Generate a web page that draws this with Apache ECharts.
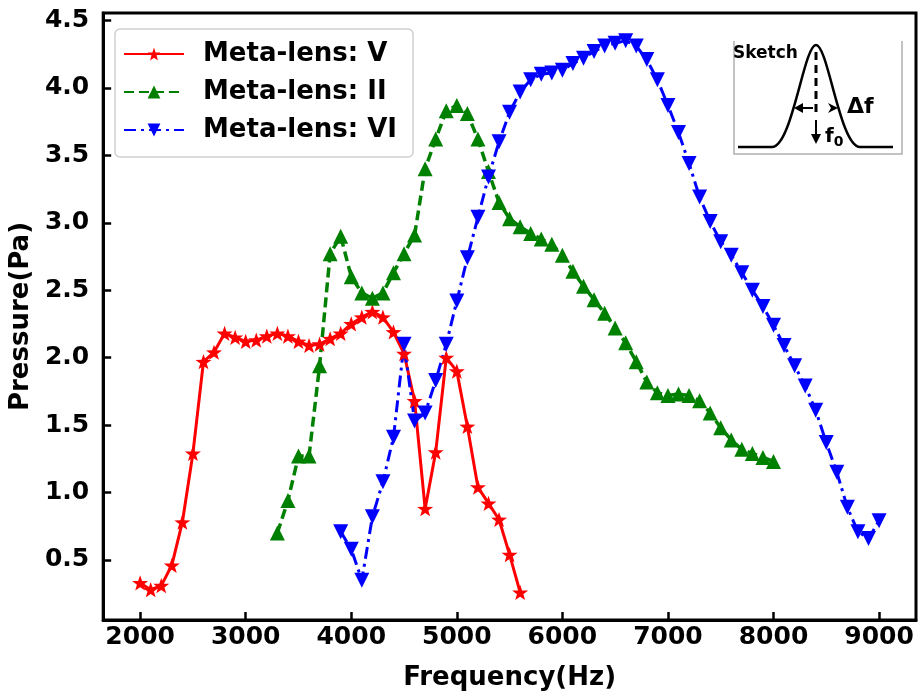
<!DOCTYPE html>
<html>
<head>
<meta charset="utf-8">
<title>Meta-lens pressure vs frequency</title>
<script src="https://cdn.jsdelivr.net/npm/echarts@6/dist/echarts.min.js"></script>
<style>
  html, body { margin: 0; padding: 0; background: #fff; }
  #chart { width: 920px; height: 696px; }
</style>
</head>
<body>
<div id="chart"></div>
<script>
// Meta-lens: V
const freqV = [2000, 2100, 2200, 2300, 2400, 2500, 2600, 2700, 2800, 2900, 3000, 3100, 3200,
  3300, 3400, 3500, 3600, 3700, 3800, 3900, 4000, 4100, 4200, 4300, 4400, 4500, 4600, 4700,
  4800, 4900, 5000, 5100, 5200, 5300, 5400, 5500, 5600]
const pressV = [0.33, 0.28, 0.31, 0.46, 0.78, 1.29, 1.97, 2.04, 2.18, 2.15, 2.12, 2.13, 2.16,
  2.18, 2.16, 2.12, 2.09, 2.10, 2.14, 2.18, 2.25, 2.30, 2.34, 2.30, 2.19, 2.03, 1.68, 0.88,
  1.30, 2.00, 1.90, 1.49, 1.04, 0.92, 0.80, 0.54, 0.26]

// Meta-lens: II
const freqII = [3300, 3400, 3500, 3600, 3700, 3800, 3900, 4000, 4100, 4200, 4300, 4400, 4500,
  4600, 4700, 4800, 4900, 5000, 5100, 5200, 5300, 5400, 5500, 5600, 5700, 5800, 5900, 6000,
  6100, 6200, 6300, 6400, 6500, 6600, 6700, 6800, 6900, 7000, 7100, 7200, 7300, 7400, 7500,
  7600, 7700, 7800, 7900, 8000]
const pressII = [0.70, 0.94, 1.27, 1.27, 1.94, 2.77, 2.90, 2.60, 2.48, 2.44, 2.48, 2.63, 2.77,
  2.91, 3.40, 3.62, 3.83, 3.87, 3.81, 3.62, 3.38, 3.15, 3.03, 2.97, 2.92, 2.88, 2.84, 2.76,
  2.64, 2.53, 2.43, 2.33, 2.22, 2.11, 1.97, 1.82, 1.74, 1.72, 1.73, 1.72, 1.68, 1.59, 1.48,
  1.39, 1.32, 1.29, 1.26, 1.23]

// Meta-lens: VI
const freqVI = [3900, 4000, 4100, 4200, 4300, 4400, 4500, 4600, 4700, 4800, 4900, 5000, 5100,
  5200, 5300, 5400, 5500, 5600, 5700, 5800, 5900, 6000, 6100, 6200, 6300, 6400, 6500, 6600,
  6700, 6800, 6900, 7000, 7100, 7200, 7300, 7400, 7500, 7600, 7700, 7800, 7900, 8000, 8100,
  8200, 8300, 8400, 8500, 8600, 8700, 8800, 8900, 9000]
const pressVI = [0.71, 0.58, 0.35, 0.82, 1.08, 1.41, 2.10, 1.53, 1.59, 1.83, 2.10, 2.42, 2.74,
  3.04, 3.34, 3.60, 3.82, 3.97, 4.06, 4.10, 4.11, 4.13, 4.18, 4.22, 4.27, 4.31, 4.33, 4.35,
  4.31, 4.21, 4.06, 3.87, 3.67, 3.44, 3.19, 3.01, 2.86, 2.76, 2.63, 2.50, 2.38, 2.24, 2.09,
  1.94, 1.79, 1.61, 1.37, 1.15, 0.89, 0.71, 0.66, 0.79]

const xTicks = [2000, 3000, 4000, 5000, 6000, 7000, 8000, 9000]
const yTicks = [0.5, 1.0, 1.5, 2.0, 2.5, 3.0, 3.5, 4.0, 4.5]

const FONT = 'DejaVu Sans'
const starPath = 'path://M0,-10L2.35,-3.24L9.51,-3.09L3.8,1.24L5.88,8.09L0,4.2L-5.88,8.09L-3.8,1.24L-9.51,-3.09L-2.35,-3.24Z'

const pairs = (xs, ys) => xs.map((x, i) => [x, ys[i]])

const chart = echarts.init(document.getElementById('chart'))

const tickStyle = { show: true, inside: true, length: 8, lineStyle: { color: '#000', width: 2.5 } }
const labelStyle = { color: '#000', fontFamily: FONT, fontWeight: 'bold', fontSize: 25 }
const nameStyle = { color: '#000', fontFamily: FONT, fontWeight: 'bold', fontSize: 26 }

const option = {
  animation: false,
  backgroundColor: '#fff',
  grid: {
    left: 103,
    right: 4,
    top: 13,
    bottom: 74,
    show: true,
    borderColor: '#000',
    borderWidth: 3,
  },
  xAxis: {
    type: 'value',
    min: 1650,
    max: 9350,
    name: 'Frequency(Hz)',
    nameLocation: 'middle',
    nameGap: 45,
    nameTextStyle: nameStyle,
    axisLine: { lineStyle: { color: '#000', width: 3 } },
    axisTick: { ...tickStyle, customValues: xTicks },
    axisLabel: { ...labelStyle, margin: 5, customValues: xTicks, formatter: (v) => String(v) },
    splitLine: { show: false },
  },
  yAxis: {
    type: 'value',
    min: 0.055,
    max: 4.555,
    name: 'Pressure(Pa)',
    nameLocation: 'middle',
    nameGap: 57,
    nameTextStyle: nameStyle,
    axisLine: { show: true, lineStyle: { color: '#000', width: 3 } },
    axisTick: { ...tickStyle, customValues: yTicks },
    axisLabel: {
      ...labelStyle,
      margin: 14,
      customValues: yTicks,
      formatter: (v) => v.toFixed(1),
    },
    splitLine: { show: false },
  },
  legend: {
    orient: 'vertical',
    left: 115,
    top: 29,
    padding: [12, 16, 14, 8],
    itemGap: 12,
    itemWidth: 60,
    itemHeight: 16,
    backgroundColor: '#fff',
    borderColor: '#cfcfcf',
    borderWidth: 1.5,
    borderRadius: 5,
    textStyle: {
      color: '#000',
      fontFamily: FONT,
      fontWeight: 'bold',
      fontSize: 26,
      padding: [0, 0, 0, 14],
    },
    data: ['Meta-lens: V', 'Meta-lens: II', 'Meta-lens: VI'],
  },
  series: [
    {
      name: 'Meta-lens: V',
      type: 'line',
      data: pairs(freqV, pressV),
      symbol: starPath,
      symbolKeepAspect: true,
      symbolSize: 16,
      showAllSymbol: true,
      itemStyle: { color: '#ff0000' },
      lineStyle: { color: '#ff0000', width: 3 },
    },
    {
      name: 'Meta-lens: II',
      type: 'line',
      data: pairs(freqII, pressII),
      symbol: 'triangle',
      symbolSize: 15,
      showAllSymbol: true,
      itemStyle: { color: '#008000' },
      lineStyle: { color: '#008000', width: 3.5, type: [10, 5] },
    },
    {
      name: 'Meta-lens: VI',
      type: 'line',
      data: pairs(freqVI, pressVI),
      symbol: 'triangle',
      symbolRotate: 180,
      symbolSize: 15,
      showAllSymbol: true,
      itemStyle: { color: '#0000ff' },
      lineStyle: { color: '#0000ff', width: 3, type: [12, 5, 3, 5] },
    },
  ],
  // inset sketch of a resonance peak
  graphic: [
    {
      type: 'polyline',
      shape: { points: [[734, 41], [734, 154], [902, 154], [902, 41]] },
      style: { stroke: '#b0b0b0', lineWidth: 1.5, fill: null },
    },
    {
      type: 'polyline',
      shape: { points: [[738, 147], [772, 147]] },
      style: { stroke: '#000', lineWidth: 2.5, fill: null },
    },
    {
      type: 'bezierCurve',
      shape: { x1: 772, y1: 147, cpx1: 792, cpy1: 147, cpx2: 804, cpy2: 45, x2: 816, y2: 45 },
      style: { stroke: '#000', lineWidth: 2.5, fill: null },
    },
    {
      type: 'bezierCurve',
      shape: { x1: 816, y1: 45, cpx1: 828, cpy1: 45, cpx2: 840, cpy2: 147, x2: 860, y2: 147 },
      style: { stroke: '#000', lineWidth: 2.5, fill: null },
    },
    {
      type: 'polyline',
      shape: { points: [[860, 147], [893, 147]] },
      style: { stroke: '#000', lineWidth: 2.5, fill: null },
    },
    {
      type: 'line',
      shape: { x1: 816, y1: 52, x2: 816, y2: 116 },
      style: { stroke: '#000', lineWidth: 3, lineDash: [8, 5] },
    },
    {
      type: 'line',
      shape: { x1: 816, y1: 120, x2: 816, y2: 138 },
      style: { stroke: '#000', lineWidth: 2 },
    },
    {
      type: 'polygon',
      shape: { points: [[811, 134], [821, 134], [816, 144]] },
      style: { fill: '#000' },
    },
    {
      type: 'line',
      shape: { x1: 813, y1: 108, x2: 799, y2: 108 },
      style: { stroke: '#000', lineWidth: 2 },
    },
    {
      type: 'polygon',
      shape: { points: [[794, 108], [803, 103], [803, 113]] },
      style: { fill: '#000' },
    },
    {
      type: 'polygon',
      shape: { points: [[838, 108], [828, 103], [831, 108], [828, 113]] },
      style: { fill: '#000' },
    },
    {
      type: 'text',
      left: 733,
      top: 45,
      style: { text: 'Sketch', fill: '#000', font: 'bold 17px "DejaVu Sans"' },
    },
    {
      type: 'text',
      left: 847,
      top: 96,
      style: { text: 'Δf', fill: '#000', font: 'bold 22px "DejaVu Sans"' },
    },
    {
      type: 'text',
      left: 825,
      top: 127,
      style: {
        text: '{f|f}{s|0}',
        rich: {
          f: { fill: '#000', fontFamily: FONT, fontWeight: 'bold', fontSize: 20 },
          s: { fill: '#000', fontFamily: FONT, fontWeight: 'bold', fontSize: 14, padding: [10, 0, 0, 0] },
        },
      },
    },
  ],
}

chart.setOption(option)
</script>
</body>
</html>
